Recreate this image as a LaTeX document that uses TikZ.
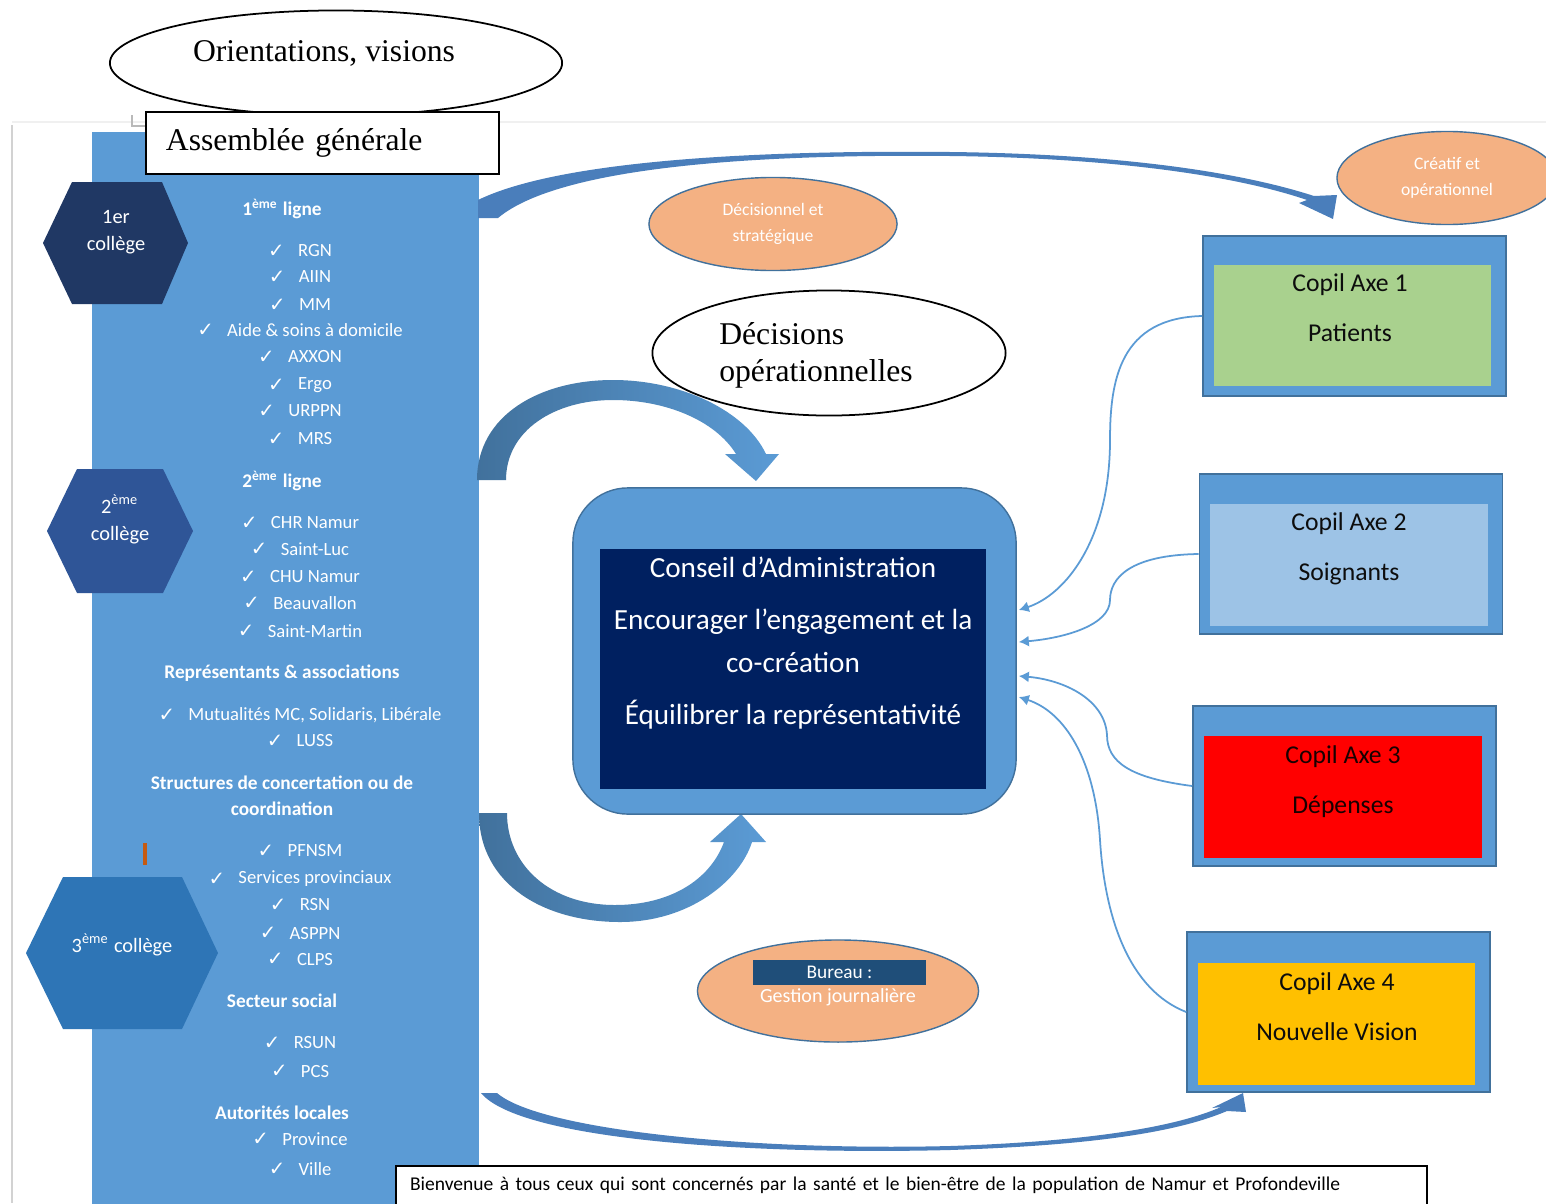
\documentclass[tikz,border=0pt]{standalone}
\usepackage{fontspec}
\setmainfont{Liberation Serif}
\newfontfamily\carlito{Carlito}
\newfontfamily\dejavu{DejaVu Sans}
\usetikzlibrary{arrows.meta,positioning,shapes.geometric,calc}
\definecolor{Panel}{HTML}{5B9BD5}
\definecolor{Edge}{HTML}{41719C}
\definecolor{Band}{HTML}{4A7EBB}
\definecolor{Navy}{HTML}{002060}
\definecolor{HexA}{HTML}{203864}
\definecolor{HexB}{HTML}{2F5597}
\definecolor{HexC}{HTML}{2E75B6}
\definecolor{Peach}{HTML}{F4B183}
\definecolor{BureauBlue}{HTML}{1F4E79}
\definecolor{AxeGreen}{HTML}{A9D18E}
\definecolor{AxeBlue}{HTML}{9DC3E6}
\definecolor{AxeRed}{HTML}{FF0000}
\definecolor{AxeGold}{HTML}{FFC000}
\definecolor{Cursor}{HTML}{C55A11}

\begin{document}
\begin{tikzpicture}[x=0.01cm,y=-0.01cm,
  panel/.style={fill=Panel,anchor=north west,minimum width=3.87cm,minimum height=11cm,inner sep=0pt},
  oval/.style={ellipse,draw=black,line width=0.5pt,inner sep=0pt},
  serifbig/.style={font=\fontsize{9}{10.5}\selectfont,align=left,inner sep=0pt},
  peach/.style={ellipse,draw=Edge,fill=Peach,text=white,align=center,inner sep=0pt,font=\carlito\fontsize{5}{7.4}\selectfont},
  hexlabel/.style={font=\carlito\fontsize{5.8}{7.7}\selectfont,text=white,align=center,inner sep=0pt},
  listhead/.style={font=\carlito\bfseries\fontsize{5.5}{7.4}\selectfont,text=white,align=center,inner sep=0pt},
  listitem/.style={font=\carlito\fontsize{5.3}{6.4}\selectfont,text=white,inner sep=0pt,
    label={[font=\dejavu\fontsize{5.6}{6.4}\selectfont,text=white,label distance=0.12cm,inner sep=0pt]left:✓}},
  copil/.style={draw=Edge,fill=Panel,minimum width=3.03cm,minimum height=1.6cm,inner sep=0pt},
  copilin/.style={minimum width=2.77cm,minimum height=1.21cm,inner sep=0pt},
  copiltext/.style={font=\carlito\fontsize{7.3}{9}\selectfont,align=center,text=black!95,inner sep=0pt},
  feed/.style={draw=Panel,line width=0.5pt,-{Latex[length=1mm,width=1.1mm]}}
]
\useasboundingbox (0,0) rectangle (1546,1203);
\fill[white] (0,0) rectangle (1546,1203);

% page edge
\draw[gray!12,line width=0.4pt] (12,122) -- (1546,122);
\draw[gray!35,line width=0.8pt] (12,125) -- (12,1203);
\draw[gray!55,line width=0.4pt] (132,115) -- (132,126) -- (146,126);

\node[oval,fill=white,minimum width=4.52cm,minimum height=1.05cm] (orient) at (336,63) {};
\node[serifbig] (orienttxt) at (324,53) {Orientations, visions};

% left column
\node[panel] (panel) at (91,131) {};
\node[draw=black,line width=0.6pt,fill=white,minimum width=3.53cm,minimum height=0.62cm,
  text width=3.13cm,inner xsep=0.2cm,align=left,font=\fontsize{9}{10.5}\selectfont] (ag) at (322.5,143) {Assemblée générale};

\fill[HexA] (43,243) -- (72,182) -- (162,182) -- (188,243) -- (162,304) -- (72,304) -- cycle;
\fill[HexB] (47,531) -- (77,469) -- (163,469) -- (193,531) -- (163,593) -- (77,593) -- cycle;
\fill[HexC] (26,953) -- (63,877) -- (182,877) -- (218,953) -- (182,1029) -- (63,1029) -- cycle;
\node[hexlabel] (col1) at (116,232) {1er\\collège};
\node[hexlabel] (col2) at (120,519) {2\textsuperscript{ème}\\collège};
\node[hexlabel] (col3) at (122,945) {3\textsuperscript{ème} collège};

\node[listhead] (h1) at (282,209) {1\textsuperscript{ème} ligne};
\node[listhead] (h2) at (282,481) {2\textsuperscript{ème} ligne};
\node[listhead] (h3) at (282,673) {Représentants \& associations};
\node[listhead] (h4) at (282,796) {Structures de concertation ou de\\coordination};
\node[listhead] (h5) at (282,1001) {Secteur social};
\node[listhead] (h6) at (282,1113) {Autorités locales};

\foreach \y/\t [count=\k] in {251/RGN,277/AIIN,305/MM,330/{Aide \& soins à domicile},357/AXXON,
  385/Ergo,411/URPPN,439/MRS,523/CHR Namur,549/Saint-Luc,577/CHU Namur,603/Beauvallon,
  631/Saint-Martin,715/{Mutualités MC, Solidaris, Libérale},741/LUSS,851/PFNSM,
  879/Services provinciaux,905/RSN,933/ASPPN,959/CLPS,1043/RSUN,1071/PCS,1139/Province,1169/Ville}
  \node[listitem] (item\k) at (315,\y) {\t};

\draw[Cursor,line width=0.9pt] (145,843) -- (145,865);

% curved block arrows
\shade[left color=Edge,right color=Panel]
  (477,480) .. controls (477,415) and (540,380) .. (613,380)
  .. controls (680,380) and (745,410) .. (766,454) -- (779,454) -- (756,481) -- (725,454) -- (736,454)
  .. controls (715,420) and (665,400) .. (613,400) .. controls (555,400) and (506,430) .. (506,480) -- cycle;
\shade[left color=Edge,right color=Panel]
  (479,813) .. controls (479,885) and (545,922) .. (620,922)
  .. controls (690,922) and (740,880) .. (752,842) -- (766,842) -- (741,814) -- (710,842) -- (724,842)
  .. controls (710,880) and (670,905) .. (615,905) .. controls (550,905) and (507,865) .. (507,813) -- cycle;

% long arrows to the copils
\fill[Band]
  (478,200) .. controls (560,160) and (760,150) .. (950,152) .. controls (1120,154) and (1240,172) .. (1314,196)
  -- (1337,195) -- (1333,219) -- (1299,203) -- (1307,200)
  .. controls (1240,177) and (1120,158) .. (950,156) .. controls (760,154) and (560,166) .. (498,218) -- (478,218) -- cycle;
\fill[Band]
  (481,1093) .. controls (520,1140) and (750,1155) .. (950,1150) .. controls (1100,1145) and (1180,1131) .. (1227,1111)
  -- (1246,1112) -- (1243,1093) -- (1212,1108) -- (1221,1107)
  .. controls (1180,1125) and (1100,1141) .. (950,1146) .. controls (750,1151) and (540,1130) .. (497,1093) -- cycle;

% centre
\node[draw=Edge,fill=Panel,rounded corners=0.55cm,minimum width=4.43cm,minimum height=3.26cm] (ca) at (794.5,651) {};
\node[fill=Navy,minimum width=3.86cm,minimum height=2.4cm,inner sep=0pt] (cain) at (793,669) {};
\node[font=\carlito\fontsize{8.3}{12}\selectfont,text=white,align=center,inner sep=0pt] (catxt) at (793,643)
  {Conseil d’Administration\\[2.8pt]Encourager l’engagement et la\\co-création\\[2.8pt]Équilibrer la représentativité};

\node[peach,minimum width=2.48cm,minimum height=0.93cm] (strat) at (773,224) {Décisionnel et\\stratégique};
\node[peach,minimum width=2.2cm,minimum height=0.93cm] (creatif) at (1447,178) {Créatif et\\opérationnel};
\node[peach,minimum width=2.81cm,minimum height=1.02cm] (bureau) at (838,991) {};
\node[fill=BureauBlue,minimum width=1.73cm,minimum height=0.25cm,inner sep=0pt,text=white,
  font=\carlito\fontsize{5.5}{6.6}\selectfont] (bureautop) at (839.5,972.5) {Bureau :};
\node[text=white,inner sep=0pt,font=\carlito\fontsize{5.7}{6.8}\selectfont] (bureaubot) at (838,997) {Gestion journalière};

\node[oval,minimum width=3.53cm,minimum height=1.25cm] (decop) at (829,353) {};
\node[serifbig] (decoptxt) at (816,355) {Décisions\\opérationnelles};

% copils
\node[copil] (cop1) at (1354.5,316) {};
\node[copilin,fill=AxeGreen] (cop1in) at (1352.5,325.5) {};
\node[copiltext] (cop1txt) at (1350,308) {Copil Axe 1\\[5.2pt]Patients};
\node[copil] (cop2) at (1351,554) {};
\node[copilin,fill=AxeBlue] (cop2in) at (1349,565) {};
\node[copiltext] (cop2txt) at (1349,549) {Copil Axe 2\\[5.2pt]Soignants};
\node[copil] (cop3) at (1344.5,786) {};
\node[copilin,fill=AxeRed] (cop3in) at (1343,797) {};
\node[copiltext,text=black!90!red] (cop3txt) at (1343,782) {Copil Axe 3\\[5.2pt]Dépenses};
\node[copil] (cop4) at (1338.5,1012) {};
\node[copilin,fill=AxeGold,minimum height=1.22cm] (cop4in) at (1336.5,1024) {};
\node[copiltext] (cop4txt) at (1337,1007) {Copil Axe 4\\[5.2pt]Nouvelle Vision};

\draw[feed] (cop1.west) .. controls (1120,318) and (1110,380) .. (1110,440)
  .. controls (1110,540) and (1065,595) .. ($(ca.east)+(2,-41)$);
\draw[feed] (cop2.west) .. controls (1130,555) and (1110,578) .. (1110,600)
  .. controls (1110,625) and (1065,638) .. ($(ca.east)+(2,-9)$);
\draw[feed] (cop3.west) .. controls (1130,778) and (1107,762) .. (1107,735)
  .. controls (1105,700) and (1065,680) .. ($(ca.east)+(2,25)$);
\draw[feed] (cop4.west) .. controls (1130,990) and (1105,920) .. (1100,840)
  .. controls (1095,760) and (1065,712) .. ($(ca.east)+(2,46)$);

% footer
\node[draw=black,line width=0.6pt,fill=white,anchor=north west,minimum width=10.3cm,text width=10.02cm,
  inner xsep=0.14cm,inner ysep=0.08cm,text height=0.16cm,text depth=0.3cm,align=left,
  font=\carlito\fontsize{5.55}{7}\selectfont] (welcome) at (395,1165)
  {Bienvenue à tous ceux qui sont concernés par la santé et le bien-être de la population de Namur et Profondeville};
\end{tikzpicture}
\end{document}
